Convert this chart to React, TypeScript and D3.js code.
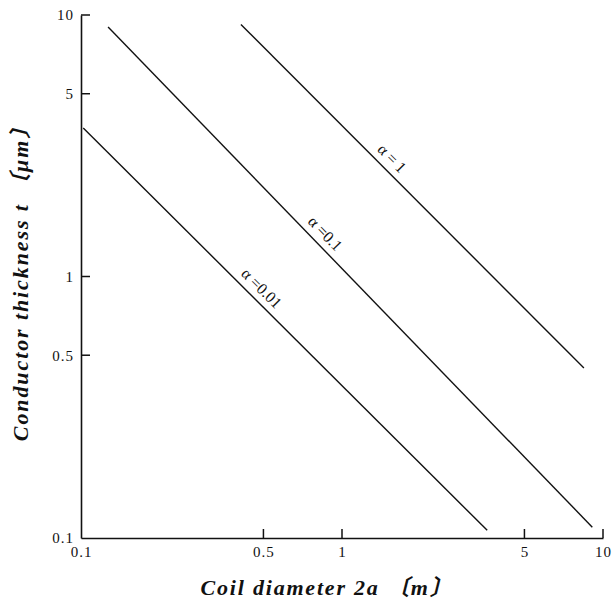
import { useRef, useEffect } from 'react';
import * as d3 from 'd3';

const W = 616;
const H = 603;
const margin = { top: 15, right: 13, bottom: 65, left: 81 };
const width = W - margin.left - margin.right;
const height = H - margin.top - margin.bottom;

const xTicks = [0.1, 0.5, 1, 5, 10];
const yTicks = [0.1, 0.5, 1, 5, 10];
const xTickLabels = ['0.1', '0.5', '1', '5', '10'];
const yTickLabels = ['0.1', '0.5', '1', '5', '10'];

// line end points: [2a, t]
const alphaNames = ['α = 1', 'α =0.1', 'α =0.01'];
const alpha1 = [[0.41, 9.2], [8.45, 0.447]];
const alpha01 = [[0.127, 9.0], [9.1, 0.11]];
const alpha001 = [[0.102, 3.7], [3.6, 0.107]];
// label anchor along the line (fraction of its length)
const labelAt = [0.415, 0.43, 0.42];

const serif = '"Liberation Serif", "DejaVu Serif", "Noto Sans CJK JP", serif';

const App = () => {
    const ref = useRef(null);

    useEffect(() => {
        const svg = d3.select(ref.current);
        svg.selectAll('*').remove();

        const g = svg.append('g').attr('transform', `translate(${margin.left},${margin.top})`);

        const x = d3.scaleLog().domain([0.1, 10]).range([0, width]);
        const y = d3.scaleLog().domain([0.1, 10]).range([height, 0]);

        const xAxis = d3.axisBottom(x).tickValues(xTicks).tickSize(0).tickPadding(8)
            .tickFormat((d, i) => xTickLabels[i]);
        const yAxis = d3.axisLeft(y).tickValues(yTicks).tickSize(0).tickPadding(7)
            .tickFormat((d, i) => yTickLabels[i]);

        const xg = g.append('g').attr('transform', `translate(0,${height})`).call(xAxis);
        const yg = g.append('g').call(yAxis);
        [xg, yg].forEach(a => {
            a.attr('font-size', null).attr('font-family', null);
            a.select('.domain').attr('stroke', '#111').attr('stroke-width', 1.6);
            a.selectAll('text').attr('fill', '#111')
                .style('font-family', serif).style('font-size', '15px').style('letter-spacing', '1px');
        });

        // inward tick marks
        g.selectAll('.xt').data(xTicks.slice(1)).enter().append('line')
            .attr('x1', d => x(d)).attr('x2', d => x(d))
            .attr('y1', height).attr('y2', height - 9)
            .attr('stroke', '#111').attr('stroke-width', 1.5);
        g.selectAll('.yt').data(yTicks.slice(1)).enter().append('line')
            .attr('x1', 0).attr('x2', 9)
            .attr('y1', d => y(d)).attr('y2', d => y(d))
            .attr('stroke', '#111').attr('stroke-width', 1.5);

        const line = d3.line().x(d => x(d[0])).y(d => y(d[1]));
        const series = [alpha1, alpha01, alpha001];
        series.forEach((s, i) => {
            g.append('path').attr('d', line(s)).attr('fill', 'none')
                .attr('stroke', '#111').attr('stroke-width', 1.4);

            const p0 = [x(s[0][0]), y(s[0][1])];
            const p1 = [x(s[1][0]), y(s[1][1])];
            const f = labelAt[i];
            const px = p0[0] + (p1[0] - p0[0]) * f;
            const py = p0[1] + (p1[1] - p0[1]) * f;
            const ang = Math.atan2(p1[1] - p0[1], p1[0] - p0[0]) * 180 / Math.PI;
            g.append('text')
                .attr('transform', `translate(${px},${py}) rotate(${ang}) translate(0,-7)`)
                .attr('text-anchor', 'middle')
                .style('font-family', serif).style('font-size', '16px')
                .attr('fill', '#111')
                .text(alphaNames[i]);
        });

        svg.append('text')
            .attr('x', 327).attr('y', 595)
            .attr('text-anchor', 'middle')
            .style('font-family', serif).style('font-size', '22px')
            .style('font-style', 'italic').style('font-weight', 'bold').style('letter-spacing', '1.8px')
            .attr('fill', '#111')
            .text('Coil diameter 2a 〔m〕');

        svg.append('text')
            .attr('transform', 'translate(28,278) rotate(-90)')
            .attr('text-anchor', 'middle')
            .style('font-family', serif).style('font-size', '22px')
            .style('font-style', 'italic').style('font-weight', 'bold').style('letter-spacing', '1.9px')
            .attr('fill', '#111')
            .text('Conductor thickness t 〔μm〕');
    }, []);

    return (
        <svg ref={ref} width={W} height={H}
            style={{ position: 'absolute', left: 0, top: 0, background: '#fff' }} />
    );
};

export default App;
